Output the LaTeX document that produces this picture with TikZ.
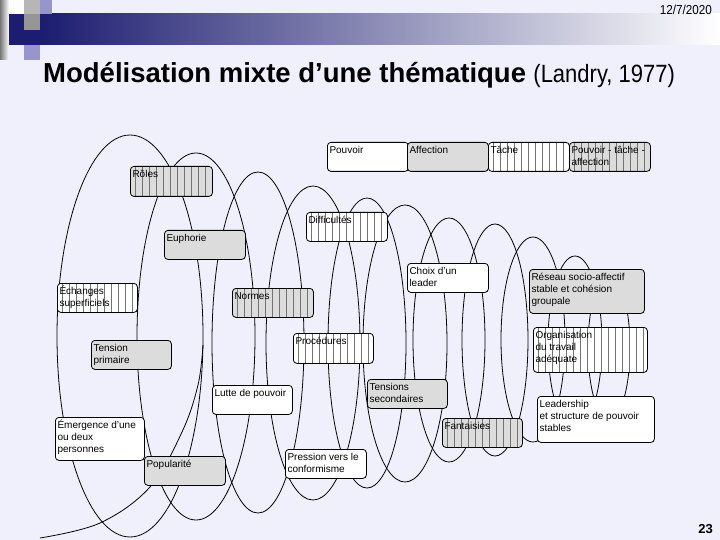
\documentclass[tikz,border=0pt]{standalone}
\usepackage{fontspec}
\setmainfont{Liberation Sans}
\usepackage{graphicx}
\newcommand{\bxfont}{\fontsize{10pt}{12.3pt}\selectfont}
\definecolor{bgcol}{RGB}{240,240,253}
\definecolor{navy}{RGB}{28,28,112}
\definecolor{boxgray}{RGB}{220,220,220}
\definecolor{stripecol}{RGB}{115,115,115}
\definecolor{sqgray}{RGB}{150,150,150}
\definecolor{sqlav}{RGB}{150,150,205}
\tikzset{
  coil/.style={draw=black, line width=0.8pt},
  cbox/.style={draw=black, line width=0.8pt, rounded corners=3.5pt, anchor=north west,
    inner sep=0pt, fill=white, minimum width=81pt, minimum height=29pt},
  gbox/.style={cbox, fill=boxgray},
  striped/.style={path picture={\foreach \k in {0,...,17}
      \draw[stripecol, line width=0.7pt]
        ([xshift={5pt+\k*7pt}]path picture bounding box.north west) --
        ([xshift={5pt+\k*7pt}]path picture bounding box.south west);}},
  lbl/.style={anchor=north west, inner sep=0pt, font=\bxfont, align=left},
}
\begin{document}
\begin{tikzpicture}[x=1pt,y=-1pt]
\fill[bgcol] (0,0) rectangle (720,540);
\useasboundingbox (0,0) rectangle (720,540);
% header decoration
\shade[left color=navy, right color=white] (40,14) rectangle (720,45);
\shade[left color=sqgray!80!black, right color=white] (0,0) rectangle (9,60);
\fill[navy] (9,14) rectangle (24,45);
\fill[sqgray] (24,14) rectangle (40,30);
\fill[white!85!bgcol] (9,0) rectangle (24,14);
\fill[sqgray!70] (24,0) rectangle (40,14);
\fill[sqlav] (40,0) rectangle (52,14);
\fill[sqlav] (24,45) rectangle (40,60);
\fill[navy] (24,30) rectangle (40,45);
% date, title, page number
\node[anchor=base east, inner sep=0pt] (date) at (712,15) {\scalebox{0.9}[1]{\fontsize{13}{15}\selectfont 12/7/2020}};
\node[anchor=base west, inner sep=0pt] (title) at (43,83) {\fontsize{27.5}{30}\selectfont\bfseries Modélisation mixte d’une thématique};
\node[anchor=base west, inner sep=0pt] (cite) at ([xshift=7pt]title.base east) {\scalebox{0.88}[1]{\fontsize{25}{28}\selectfont (Landry, 1977)}};
\node[anchor=base east, inner sep=0pt] (page) at (713,533) {\fontsize{13}{15}\selectfont\bfseries 23};
% coils
\draw[coil] (130,336) ellipse [x radius=73, y radius=201];
\draw[coil] (196,336.5) ellipse [x radius=59, y radius=183.5];
\draw[coil] (258,342.5) ellipse [x radius=46, y radius=170.5];
\draw[coil] (313,343) ellipse [x radius=47, y radius=157];
\draw[coil] (367,343) ellipse [x radius=39, y radius=145];
\draw[coil] (405,343.5) ellipse [x radius=42, y radius=138.5];
\draw[coil] (449,340) ellipse [x radius=36, y radius=122];
\draw[coil] (495,340) ellipse [x radius=33, y radius=116];
\draw[coil] (533,339.5) ellipse [x radius=32, y radius=102.5];
\draw[coil] (575,343) ellipse [x radius=27, y radius=87];
\draw[coil] (609,347.5) ellipse [x radius=21, y radius=72.5];
\draw[coil] plot[smooth, tension=0.6] coordinates {(40,538) (100,523) (150,487) (182,432) (198,385) (203,345)};
% legend boxes
\node[cbox] (pouv) at (327,142) {};
\node[gbox] (aff) at (407,142) {};
\node[cbox, striped] (tache) at (488,142) {};
\node[gbox, striped] (pta) at (569,142) {};
% model boxes
\node[gbox, striped, minimum width=82pt, minimum height=30pt] (roles) at (130,166) {};
\node[gbox] (euph) at (164,230) {};
\node[cbox, striped] (diff) at (306,212) {};
\node[cbox, striped, minimum width=80pt] (ech) at (57,283) {};
\node[gbox, striped] (norm) at (232,288) {};
\node[cbox] (choix) at (407,263) {};
\node[gbox, minimum width=115pt, minimum height=44pt] (res) at (529,269) {};
\node[cbox, striped, minimum width=114pt, minimum height=45pt] (org) at (533,327) {};
\node[gbox, minimum width=80pt] (tens) at (91,340) {};
\node[cbox, striped, minimum width=80pt, minimum height=30pt] (proc) at (293,333) {};
\node[cbox, minimum width=80pt] (lutte) at (212,385) {};
\node[gbox, minimum width=80pt] (tsec) at (367,379) {};
\node[cbox, minimum width=89pt, minimum height=43pt] (emer) at (55,417) {};
\node[gbox, striped, minimum width=80pt] (fant) at (442,418) {};
\node[cbox, minimum width=117pt, minimum height=46pt] (lead) at (537,396) {};
\node[gbox] (pop) at (144,456) {};
\node[cbox] (press) at (285,449) {};
% labels
\node[lbl] (pouvT) at ([shift={(2.3pt,-2.4pt)}]pouv.north west) {\strut Pouvoir};
\node[lbl] (affT) at ([shift={(2.3pt,-2.4pt)}]aff.north west) {\strut Affection};
\node[lbl] (tacheT) at ([shift={(2.3pt,-2.4pt)}]tache.north west) {\strut Tâche};
\node[lbl] (ptaT) at ([shift={(2.3pt,-2.4pt)}]pta.north west) {\strut Pouvoir - tâche -\\affection};
\node[lbl] (rolesT) at ([shift={(2.3pt,-2.4pt)}]roles.north west) {\strut Rôles};
\node[lbl] (euphT) at ([shift={(2.3pt,-2.4pt)}]euph.north west) {\strut Euphorie};
\node[lbl] (diffT) at ([shift={(2.3pt,-2.4pt)}]diff.north west) {\strut Difficultés};
\node[lbl] (echT) at ([shift={(2.3pt,-2.4pt)}]ech.north west) {\strut Échanges\\superficiels};
\node[lbl] (normT) at ([shift={(2.3pt,-2.4pt)}]norm.north west) {\strut Normes};
\node[lbl] (choixT) at ([shift={(2.3pt,-2.4pt)}]choix.north west) {\strut Choix d'un\\leader};
\node[lbl] (resT) at ([shift={(2.3pt,-2.4pt)}]res.north west) {\strut Réseau socio-affectif\\stable et cohésion\\groupale};
\node[lbl] (orgT) at ([shift={(2.3pt,-2.4pt)}]org.north west) {\strut Organisation\\du travail\\adéquate};
\node[lbl] (tensT) at ([shift={(2.3pt,-2.4pt)}]tens.north west) {\strut Tension\\primaire};
\node[lbl] (procT) at ([shift={(2.3pt,-2.4pt)}]proc.north west) {\strut Procédures};
\node[lbl] (lutteT) at ([shift={(2.3pt,-2.4pt)}]lutte.north west) {\strut Lutte de pouvoir};
\node[lbl] (tsecT) at ([shift={(2.3pt,-2.4pt)}]tsec.north west) {\strut Tensions\\secondaires};
\node[lbl] (emerT) at ([shift={(2.3pt,-2.4pt)}]emer.north west) {\strut Émergence d'une\\ou deux\\personnes};
\node[lbl] (fantT) at ([shift={(2.3pt,-2.4pt)}]fant.north west) {\strut Fantaisies};
\node[lbl] (leadT) at ([shift={(2.3pt,-2.4pt)}]lead.north west) {\strut Leadership\\et structure de pouvoir\\stables};
\node[lbl] (popT) at ([shift={(2.3pt,-2.4pt)}]pop.north west) {\strut Popularité};
\node[lbl] (pressT) at ([shift={(2.3pt,-2.4pt)}]press.north west) {\strut Pression vers le\\conformisme};
\end{tikzpicture}
\end{document}
